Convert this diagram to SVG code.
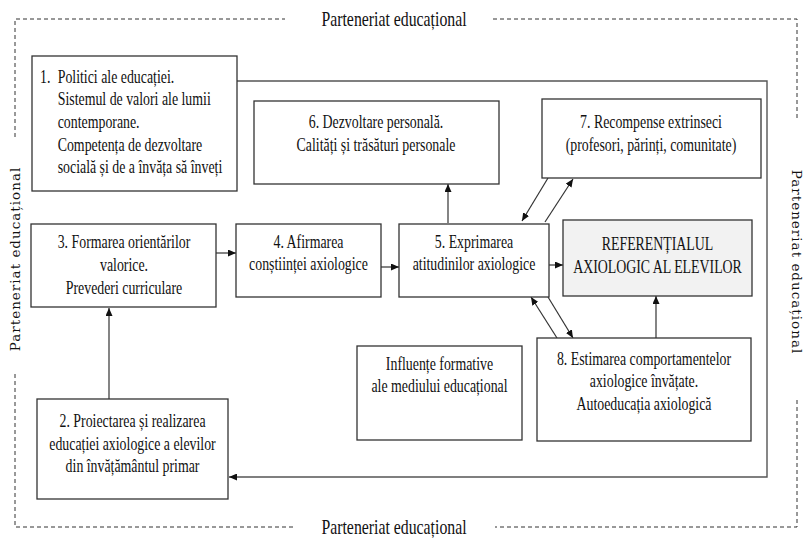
<svg xmlns="http://www.w3.org/2000/svg" width="805" height="538" viewBox="0 0 805 538">
<defs>
<marker id="ah" viewBox="0 0 8 7" refX="8" refY="3.5" markerWidth="8" markerHeight="7" markerUnits="userSpaceOnUse" orient="auto">
<path d="M0,0 L8,3.5 L0,7 z" fill="#111"/>
</marker>
<style>
.bx{fill:#fff;stroke:#333;stroke-width:1.3}
.ref{fill:#f2f2f2;stroke:#333;stroke-width:1.3}
.t{font-family:"Liberation Serif","Times New Roman",serif;font-size:18px;fill:#111}
.c{text-anchor:middle}
.lbl{font-family:"Liberation Serif","Times New Roman",serif;font-size:20px;fill:#111;text-anchor:middle}
.side{font-family:"DejaVu Serif",serif;font-size:13.5px;letter-spacing:1px;fill:#111;text-anchor:middle}
.dash{fill:none;stroke:#333;stroke-width:1;stroke-dasharray:4 3}
.ln{fill:none;stroke:#333;stroke-width:1.2}
.fb{fill:none;stroke:#555;stroke-width:1.4}
</style>
</defs>
<rect width="805" height="538" fill="#fff"/>

<g id="frame">
<path class="dash" d="M15,137 V19 H285"/>
<path class="dash" d="M493,19 H797 V118"/>
<path class="dash" d="M797,400 V527 H495"/>
<path class="dash" d="M293,527 H15 V374"/>
<text class="lbl" transform="translate(394,26) scale(0.79 1)" x="0" y="0">Parteneriat educațional</text>
<text class="lbl" transform="translate(394,534) scale(0.79 1)" x="0" y="0">Parteneriat educațional</text>
<text class="side" transform="translate(20,259) rotate(-90)" x="0" y="0">Parteneriat educațional</text>
<text class="side" transform="translate(792,262) rotate(90)" x="0" y="0">Parteneriat educațional</text>
</g>

<g id="connectors">
<path class="fb" d="M237,81 H767 V477 H229" marker-end="url(#ah)"/>
<path class="ln" d="M109,399 V308" marker-end="url(#ah)"/>
<path class="ln" d="M216,253 H236" marker-end="url(#ah)"/>
<path class="ln" d="M381,267 H399" marker-end="url(#ah)"/>
<path class="ln" d="M549,265 H563" marker-end="url(#ah)"/>
<path class="ln" d="M448,223 V184" marker-end="url(#ah)"/>
<path class="ln" d="M548,178 L522,221" marker-end="url(#ah)"/>
<path class="ln" d="M545,222 L573,179" marker-end="url(#ah)"/>
<path class="ln" d="M557,338 L531,297" marker-end="url(#ah)"/>
<path class="ln" d="M548,297 L573,338" marker-end="url(#ah)"/>
<path class="ln" d="M656,338 V296" marker-end="url(#ah)"/>
</g>

<g id="n1">
<rect class="bx" x="32" y="56" width="205" height="135"/>
<text class="t" transform="translate(40,0) scale(0.77 1)"><tspan x="0" y="83">1. </tspan><tspan x="23" y="83">Politici ale educației.</tspan><tspan x="23" y="105.5">Sistemul de valori ale lumii</tspan><tspan x="23" y="128">contemporane.</tspan><tspan x="23" y="151">Competența de dezvoltare</tspan><tspan x="23" y="173.5">socială și de a învăța să înveți</tspan></text>
</g>

<g id="n6">
<rect class="bx" x="254" y="101" width="245" height="83"/>
<text class="t c" transform="translate(376,0) scale(0.77 1)"><tspan x="0" y="128">6. Dezvoltare personală.</tspan><tspan x="0" y="151">Calități și trăsături personale</tspan></text>
</g>

<g id="n7">
<rect class="bx" x="542" y="99" width="219" height="79"/>
<text class="t c" transform="translate(651,0) scale(0.77 1)"><tspan x="0" y="128">7. Recompense extrinseci</tspan><tspan x="0" y="151">(profesori, părinți, comunitate)</tspan></text>
</g>

<g id="n3">
<rect class="bx" x="31" y="224" width="185" height="83"/>
<text class="t c" transform="translate(124,0) scale(0.77 1)"><tspan x="0" y="248">3. Formarea orientărilor</tspan><tspan x="0" y="271">valorice.</tspan><tspan x="0" y="294">Prevederi curriculare</tspan></text>
</g>

<g id="n4">
<rect class="bx" x="236" y="224" width="145" height="73"/>
<text class="t c" transform="translate(308.5,0) scale(0.77 1)"><tspan x="0" y="248">4. Afirmarea</tspan><tspan x="0" y="270.5">conștiinței axiologice</tspan></text>
</g>

<g id="n5">
<rect class="bx" x="399" y="224" width="150" height="73"/>
<text class="t c" transform="translate(474,0) scale(0.77 1)"><tspan x="0" y="248">5. Exprimarea</tspan><tspan x="0" y="270.5">atitudinilor axiologice</tspan></text>
</g>

<g id="nref">
<rect class="ref" x="563" y="220" width="189" height="76"/>
<text class="t c" transform="translate(657.5,0) scale(0.77 1)"><tspan x="0" y="250">REFERENȚIALUL</tspan><tspan x="0" y="273">AXIOLOGIC AL ELEVILOR</tspan></text>
</g>

<g id="ninf">
<rect class="bx" x="357" y="346" width="165" height="94"/>
<text class="t c" transform="translate(439.5,0) scale(0.77 1)"><tspan x="0" y="370">Influențe formative</tspan><tspan x="0" y="392.5">ale mediului educațional</tspan></text>
</g>

<g id="n8">
<rect class="bx" x="537" y="338" width="214" height="103"/>
<text class="t c" transform="translate(644,0) scale(0.77 1)"><tspan x="0" y="365">8. Estimarea comportamentelor</tspan><tspan x="0" y="387.5">axiologice învățate.</tspan><tspan x="0" y="410">Autoeducația axiologică</tspan></text>
</g>

<g id="n2">
<rect class="bx" x="37" y="399" width="191" height="100"/>
<text class="t c" transform="translate(132.5,0) scale(0.77 1)"><tspan x="0" y="427">2. Proiectarea și realizarea</tspan><tspan x="0" y="450">educației axiologice a elevilor</tspan><tspan x="0" y="472.5">din învățământul primar</tspan></text>
</g>
</svg>
